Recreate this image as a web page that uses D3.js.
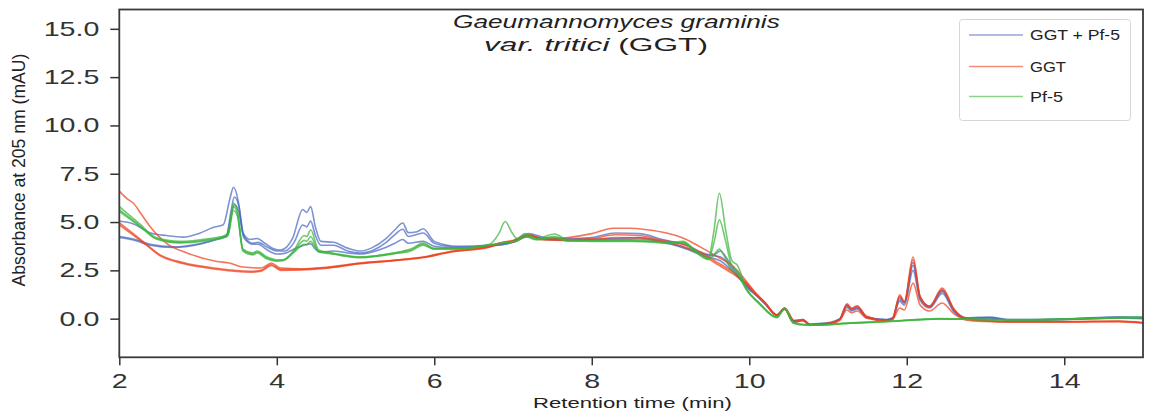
<!DOCTYPE html>
<html>
<head>
<meta charset="utf-8">
<script src="https://cdn.jsdelivr.net/npm/d3@7"></script>
<style>
  body { margin: 0; background: #fff; }
  svg { display: block; font-family: "Liberation Sans", Arial, sans-serif; }
</style>
</head>
<body>
<svg id="chart" width="1149" height="416"></svg>
<script>
// retention time (min) / absorbance (mAU) pairs
const ggt_pf5_1 = [[2.0,5.05],[2.18,4.9],[2.39,4.45],[2.6,4.3],[2.81,4.22],[3.02,4.42],[3.19,4.72],[3.32,4.86],[3.41,6.3],[3.45,6.8],[3.51,6.1],[3.57,4.45],[3.66,4.1],[3.75,4.15],[3.85,3.9],[3.96,3.62],[4.05,3.55],[4.2,4.15],[4.33,5.65],[4.38,5.5],[4.43,5.8],[4.49,4.75],[4.56,4.0],[4.72,3.95],[4.9,3.65],[5.06,3.5],[5.2,3.65],[5.39,4.15],[5.5,4.6],[5.6,4.95],[5.67,4.45],[5.78,4.5],[5.86,4.65],[6.0,4.0],[6.3,3.75],[6.7,3.8],[7.0,4.0],[7.2,4.4],[7.4,4.2],[7.7,4.15],[8.0,4.2],[8.3,4.43],[8.6,4.4],[8.9,4.1],[9.2,3.8],[9.45,3.35],[9.55,3.3],[9.63,3.5],[9.75,2.9],[9.9,2.1],[10.0,1.6],[10.1,1.2],[10.2,0.8],[10.35,0.2],[10.45,0.55],[10.55,-0.1],[10.68,-0.05],[10.77,-0.28],[10.98,-0.22],[11.15,0.0],[11.24,0.72],[11.3,0.5],[11.37,0.62],[11.49,0.1],[11.74,-0.05],[11.82,0.05],[11.91,1.1],[11.97,0.85],[12.08,2.9],[12.17,1.1],[12.29,0.65],[12.45,1.45],[12.6,0.45],[12.76,0.05],[13.05,0.08],[13.3,-0.05],[14.0,-0.02],[14.7,0.1],[15.0,0.05]];
const ggt_pf5_2 = [[2.0,4.25],[2.2,4.1],[2.39,3.85],[2.69,3.72],[3.02,3.88],[3.28,4.18],[3.36,4.3],[3.42,5.6],[3.46,6.3],[3.52,5.8],[3.58,4.3],[3.7,3.9],[3.76,3.95],[3.88,3.7],[4.0,3.5],[4.1,3.5],[4.22,3.95],[4.33,4.85],[4.38,4.75],[4.43,5.05],[4.49,4.3],[4.56,3.8],[4.72,3.8],[4.9,3.5],[5.06,3.4],[5.39,3.95],[5.5,4.35],[5.6,4.63],[5.67,4.25],[5.86,4.43],[6.0,3.9],[6.3,3.7],[6.7,3.78],[7.0,3.95],[7.2,4.3],[7.4,4.15],[7.7,4.1],[8.0,4.12],[8.3,4.15],[8.6,4.2],[8.9,4.0],[9.2,3.65],[9.45,3.3],[9.63,3.2],[9.75,2.75],[9.9,2.0],[10.0,1.55],[10.1,1.2],[10.2,0.8],[10.35,0.2],[10.45,0.52],[10.55,-0.12],[10.68,-0.08],[10.77,-0.3],[10.98,-0.25],[11.15,-0.02],[11.24,0.65],[11.3,0.45],[11.37,0.55],[11.49,0.08],[11.74,-0.06],[11.82,0.02],[11.91,1.0],[11.97,0.8],[12.08,2.75],[12.17,1.05],[12.29,0.6],[12.45,1.4],[12.6,0.4],[12.76,0.02],[13.05,0.05],[13.3,-0.06],[14.0,-0.03],[14.7,0.06],[15.0,0.02]];
const ggt_pf5_3 = [[2.0,4.2],[2.2,4.05],[2.39,3.8],[2.69,3.68],[3.02,3.85],[3.28,4.15],[3.36,4.25],[3.42,5.3],[3.46,5.9],[3.52,5.5],[3.58,4.2],[3.7,3.85],[3.76,3.85],[3.88,3.55],[4.0,3.35],[4.1,3.38],[4.22,3.6],[4.33,3.78],[4.43,3.87],[4.49,3.6],[4.56,3.45],[4.72,3.5],[4.9,3.4],[5.06,3.35],[5.39,3.7],[5.5,3.9],[5.6,4.1],[5.67,3.9],[5.86,4.0],[6.0,3.75],[6.3,3.65],[6.7,3.75],[7.0,3.95],[7.2,4.25],[7.4,4.1],[7.7,4.05],[8.0,4.08],[8.3,4.1],[8.6,4.12],[8.9,3.95],[9.2,3.6],[9.45,3.2],[9.63,3.0],[9.75,2.6],[9.9,1.95],[10.0,1.5],[10.1,1.15],[10.2,0.75],[10.35,0.18],[10.45,0.5],[10.55,-0.15],[10.68,-0.1],[10.77,-0.32],[10.98,-0.27],[11.15,-0.05],[11.24,0.58],[11.3,0.4],[11.37,0.5],[11.49,0.05],[11.74,-0.08],[11.82,0.0],[11.91,0.9],[11.97,0.7],[12.08,2.5],[12.17,0.95],[12.29,0.55],[12.45,1.3],[12.6,0.35],[12.76,0.0],[13.05,0.04],[13.3,-0.08],[14.0,-0.05],[14.7,0.04],[15.0,0.0]];

const ggt_1 = [[2.0,6.6],[2.1,6.2],[2.18,5.97],[2.28,5.4],[2.39,4.77],[2.6,3.9],[2.86,3.4],[3.24,2.96],[3.4,2.88],[3.57,2.67],[3.8,2.62],[3.93,2.88],[4.05,2.62],[4.3,2.58],[4.6,2.65],[5.06,2.88],[5.56,3.05],[5.9,3.22],[6.2,3.48],[6.7,3.73],[6.83,3.92],[7.0,4.05],[7.21,4.34],[7.38,4.12],[7.7,4.2],[8.0,4.4],[8.27,4.68],[8.48,4.68],[8.7,4.6],[8.95,4.43],[9.2,4.1],[9.37,3.73],[9.6,3.2],[9.8,2.7],[9.95,2.0],[10.09,1.3],[10.2,0.85],[10.35,0.2],[10.45,0.55],[10.58,-0.15],[10.68,-0.05],[10.77,-0.3],[10.98,-0.25],[11.15,-0.02],[11.24,0.77],[11.3,0.55],[11.37,0.67],[11.49,0.12],[11.74,-0.09],[11.82,0.0],[11.91,1.24],[11.97,0.9],[12.08,3.19],[12.17,1.15],[12.29,0.64],[12.45,1.58],[12.6,0.5],[12.76,0.0],[13.0,-0.1],[13.3,-0.15],[14.0,-0.15],[14.7,-0.12],[15.0,-0.2]];
const ggt_2 = [[2.0,4.97],[2.3,4.0],[2.52,3.3],[2.81,2.9],[3.24,2.6],[3.66,2.45],[3.8,2.5],[3.93,2.8],[4.05,2.55],[4.3,2.55],[4.6,2.62],[5.06,2.86],[5.56,3.04],[5.9,3.2],[6.2,3.46],[6.7,3.72],[6.83,3.9],[7.0,4.03],[7.21,4.32],[7.38,4.1],[7.7,4.1],[8.0,4.15],[8.3,4.34],[8.6,4.3],[8.9,4.05],[9.15,3.85],[9.4,3.4],[9.6,2.9],[9.8,2.4],[9.95,1.9],[10.09,1.25],[10.2,0.82],[10.35,0.18],[10.45,0.52],[10.58,-0.17],[10.68,-0.07],[10.77,-0.32],[10.98,-0.27],[11.15,-0.04],[11.24,0.7],[11.3,0.5],[11.37,0.6],[11.49,0.1],[11.74,-0.1],[11.82,-0.02],[11.91,1.15],[11.97,0.85],[12.08,3.05],[12.17,1.1],[12.29,0.6],[12.45,1.5],[12.6,0.45],[12.76,-0.02],[13.0,-0.12],[13.3,-0.16],[14.0,-0.16],[14.7,-0.14],[15.0,-0.22]];
const ggt_3 = [[2.0,4.85],[2.3,3.95],[2.52,3.25],[2.81,2.85],[3.24,2.55],[3.66,2.4],[3.8,2.45],[3.93,2.75],[4.05,2.5],[4.3,2.52],[4.6,2.6],[5.06,2.84],[5.56,3.02],[5.9,3.18],[6.2,3.44],[6.7,3.7],[6.83,3.88],[7.0,4.0],[7.21,4.28],[7.38,4.08],[7.7,4.05],[8.0,4.08],[8.3,4.2],[8.6,4.18],[8.9,3.98],[9.15,3.75],[9.4,3.3],[9.6,2.8],[9.8,2.3],[9.95,1.85],[10.09,1.2],[10.2,0.8],[10.35,0.16],[10.45,0.48],[10.58,-0.2],[10.68,-0.1],[10.77,-0.34],[10.98,-0.3],[11.15,-0.08],[11.24,0.45],[11.3,0.3],[11.37,0.4],[11.49,0.02],[11.74,-0.12],[11.82,-0.05],[11.91,0.55],[11.97,0.45],[12.08,1.84],[12.17,0.7],[12.29,0.4],[12.45,0.81],[12.6,0.25],[12.76,-0.08],[13.0,-0.15],[13.3,-0.18],[14.0,-0.18],[14.7,-0.16],[15.0,-0.24]];

const pf5_1 = [[2.0,5.8],[2.26,4.9],[2.47,4.2],[2.77,4.0],[3.15,4.15],[3.3,4.25],[3.38,4.4],[3.45,5.97],[3.5,5.6],[3.57,3.6],[3.7,3.4],[3.75,3.5],[3.87,3.2],[4.0,3.05],[4.08,3.05],[4.21,3.5],[4.35,4.3],[4.38,4.25],[4.43,4.6],[4.53,3.56],[4.7,3.4],[4.84,3.3],[5.06,3.2],[5.48,3.4],[5.7,3.6],[5.86,3.91],[5.99,3.65],[6.3,3.65],[6.7,3.85],[6.82,4.4],[6.9,5.03],[6.98,4.5],[7.05,4.15],[7.15,4.4],[7.3,4.15],[7.53,4.38],[7.68,4.1],[8.0,4.05],[8.5,4.05],[8.8,4.0],[9.0,3.95],[9.16,4.0],[9.3,3.6],[9.48,3.13],[9.55,4.5],[9.62,6.49],[9.7,4.6],[9.78,3.0],[9.85,2.75],[9.96,1.6],[10.13,0.81],[10.35,0.09],[10.45,0.55],[10.56,-0.2],[10.7,-0.3],[10.85,-0.32],[11.28,-0.22],[11.7,-0.15],[12.42,0.0],[12.8,-0.02],[13.4,-0.05],[14.2,0.0],[15.0,0.09]];
const pf5_2 = [[2.0,5.63],[2.26,4.82],[2.47,4.15],[2.77,3.95],[3.15,4.1],[3.3,4.2],[3.38,4.35],[3.45,5.8],[3.5,5.45],[3.57,3.55],[3.7,3.35],[3.75,3.45],[3.87,3.15],[4.0,3.0],[4.08,3.02],[4.21,3.45],[4.35,4.05],[4.38,4.0],[4.43,4.25],[4.53,3.5],[4.7,3.38],[4.84,3.28],[5.06,3.18],[5.48,3.38],[5.7,3.55],[5.86,3.85],[5.99,3.62],[6.3,3.62],[6.7,3.82],[6.9,3.95],[7.05,4.05],[7.15,4.3],[7.3,4.1],[7.53,4.25],[7.68,4.05],[8.0,4.02],[8.5,4.02],[8.8,3.98],[9.0,3.9],[9.16,3.95],[9.3,3.55],[9.48,3.1],[9.55,3.9],[9.62,5.11],[9.7,4.0],[9.78,2.7],[9.85,2.44],[9.96,1.55],[10.13,0.78],[10.35,0.07],[10.45,0.52],[10.56,-0.22],[10.7,-0.32],[10.85,-0.33],[11.28,-0.23],[11.7,-0.16],[12.42,-0.01],[12.8,-0.03],[13.4,-0.06],[14.2,-0.01],[15.0,0.07]];
const pf5_3 = [[2.0,5.55],[2.26,4.78],[2.47,4.12],[2.77,3.92],[3.15,4.05],[3.3,4.15],[3.38,4.3],[3.45,5.6],[3.5,5.3],[3.57,3.5],[3.7,3.3],[3.75,3.4],[3.87,3.1],[4.0,2.98],[4.08,3.0],[4.21,3.4],[4.35,3.85],[4.38,3.82],[4.43,4.0],[4.53,3.45],[4.7,3.35],[4.84,3.25],[5.06,3.15],[5.48,3.35],[5.7,3.5],[5.86,3.8],[5.99,3.6],[6.3,3.6],[6.7,3.8],[6.9,3.92],[7.05,4.02],[7.15,4.25],[7.3,4.08],[7.53,4.2],[7.68,4.02],[8.0,4.0],[8.5,4.0],[8.8,3.95],[9.0,3.88],[9.16,3.92],[9.3,3.5],[9.48,3.05],[9.55,3.3],[9.62,3.6],[9.7,3.1],[9.78,2.5],[9.85,2.3],[9.96,1.5],[10.13,0.75],[10.35,0.05],[10.45,0.5],[10.56,-0.24],[10.7,-0.33],[10.85,-0.34],[11.28,-0.24],[11.7,-0.17],[12.42,-0.02],[12.8,-0.04],[13.4,-0.07],[14.2,-0.02],[15.0,0.05]];

const groups = ["GGT + Pf-5", "GGT", "Pf-5"];
const group_colors = ["#4a68c0", "#f0401c", "#3cb43c"];
const group_series = [
  [ggt_pf5_1, ggt_pf5_2, ggt_pf5_3],
  [ggt_1, ggt_2, ggt_3],
  [pf5_1, pf5_2, pf5_3]
];
const x_ticks = [2, 4, 6, 8, 10, 12, 14];
const y_ticks = [0, 2.5, 5, 7.5, 10, 12.5, 15];

const svg = d3.select("#chart");
const margin = { left: 119.3, right: 6, top: 9.5, bottom: 58.7 };
const width = 1149, height = 416;
const sx = 1.43; // glyphs in the figure are stretched sideways

const x = d3.scaleLinear().domain([2, 15]).range([margin.left, width - margin.right]);
const y = d3.scaleLinear().domain([-2, 16]).range([height - margin.bottom, margin.top]);

// stretch a text element so it spans a given width
function fit(sel, x0, y0, w, rotate) {
  const len = sel.node().getComputedTextLength();
  sel.attr("transform", `translate(${x0},${y0})${rotate ? " rotate(-90)" : ""} scale(${w / len},1)`);
}

svg.append("defs").append("clipPath").attr("id", "plot-clip")
  .append("rect")
  .attr("x", x.range()[0]).attr("y", y.range()[1])
  .attr("width", x.range()[1] - x.range()[0])
  .attr("height", y.range()[0] - y.range()[1]);

const line = d3.line()
  .x(d => x(d[0]))
  .y(d => y(d[1]))
  .curve(d3.curveMonotoneX);

const plot = svg.append("g").attr("clip-path", "url(#plot-clip)");
group_series.forEach((series, gi) => {
  plot.append("g")
    .selectAll("path")
    .data(series)
    .join("path")
    .attr("d", line)
    .attr("fill", "none")
    .attr("stroke", group_colors[gi])
    .attr("stroke-opacity", 0.72)
    .attr("stroke-width", 1.6)
    .attr("stroke-linejoin", "round");
});

// axes
const xAxis = svg.append("g")
  .attr("transform", `translate(0,${y.range()[0]})`)
  .call(d3.axisBottom(x).tickValues(x_ticks).tickSize(8).tickPadding(8.5).tickSizeOuter(0));
xAxis.selectAll("text")
  .attr("font-size", 20)
  .attr("fill", "#333")
  .attr("font-family", "Liberation Sans, Arial, sans-serif")
  .attr("transform", `scale(${sx},1)`);

const yAxis = svg.append("g")
  .attr("transform", `translate(${x.range()[0]},0)`)
  .call(d3.axisLeft(y).tickValues(y_ticks).tickSize(9).tickFormat(d3.format(".1f")).tickSizeOuter(0));
yAxis.selectAll("text")
  .attr("font-size", 20)
  .attr("fill", "#333")
  .attr("font-family", "Liberation Sans, Arial, sans-serif")
  .attr("x", -20 / sx)
  .attr("transform", `scale(${sx},1)`);

svg.selectAll(".domain").remove();
svg.selectAll(".tick line").attr("stroke", "#333").attr("stroke-width", 1.5);

svg.append("rect")
  .attr("x", x.range()[0]).attr("y", y.range()[1])
  .attr("width", x.range()[1] - x.range()[0])
  .attr("height", y.range()[0] - y.range()[1])
  .attr("fill", "none")
  .attr("stroke", "#3a3a3a")
  .attr("stroke-width", 1.8);

// axis labels
const xl = svg.append("text")
  .attr("font-size", 15.5)
  .attr("fill", "#222")
  .text("Retention time (min)");
fit(xl, 533, 408, 199);

const yl = svg.append("text")
  .attr("font-size", 17.5)
  .attr("fill", "#222")
  .attr("text-anchor", "middle")
  .text("Absorbance at 205 nm (mAU)");
fit(yl, 25, 170, 233, true);

// title
const t1 = svg.append("text")
  .attr("font-size", 18)
  .attr("font-style", "italic")
  .attr("fill", "#222")
  .text("Gaeumannomyces graminis");
fit(t1, 453, 28, 327);

const t2 = svg.append("text")
  .attr("font-size", 18)
  .attr("fill", "#222");
t2.append("tspan").attr("font-style", "italic").text("var. tritici");
t2.append("tspan").text(" (GGT)");
fit(t2, 484, 51, 224);

// legend
const legend = svg.append("g");
legend.append("rect")
  .attr("x", 959.5).attr("y", 19.5)
  .attr("width", 171).attr("height", 101)
  .attr("rx", 3)
  .attr("fill", "#fff")
  .attr("stroke", "#d6d6d6")
  .attr("stroke-width", 1);

const legend_y = [35, 66.5, 96.5];
const legend_w = [90, 36, 33];
groups.forEach((name, i) => {
  legend.append("line")
    .attr("x1", 969).attr("x2", 1023)
    .attr("y1", legend_y[i]).attr("y2", legend_y[i])
    .attr("stroke", group_colors[i])
    .attr("stroke-opacity", 0.6)
    .attr("stroke-width", 1.4);
  const lt = legend.append("text")
    .attr("font-size", 14)
    .attr("fill", "#222")
    .text(name);
  fit(lt, 1030, legend_y[i] + 5, legend_w[i]);
});
</script>
</body>
</html>
